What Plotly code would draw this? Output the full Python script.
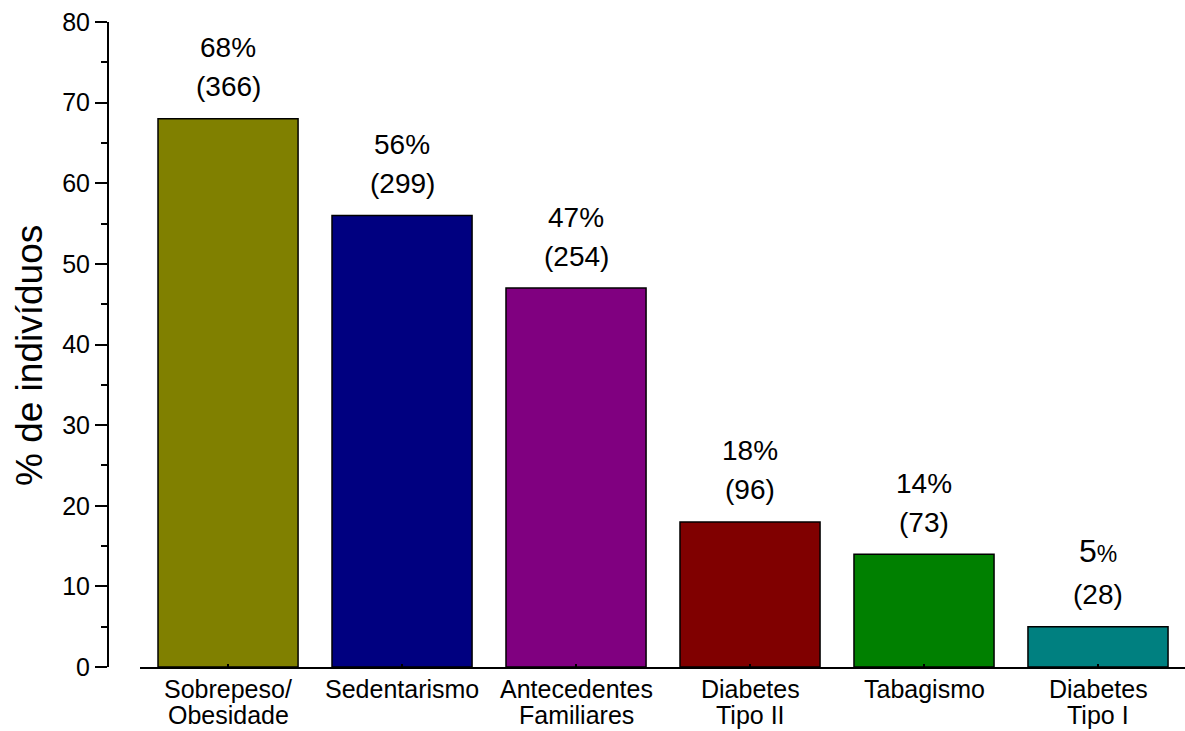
import plotly.graph_objects as go

categories = ["Sobrepeso/\nObesidade", "Sedentarismo", "Antecedentes\nFamiliares",
              "Diabetes\nTipo II", "Tabagismo", "Diabetes\nTipo I"]
percent = [68, 56, 47, 18, 14, 5]
counts = [366, 299, 254, 96, 73, 28]
colors = ["#808000", "#000080", "#800080", "#800000", "#008000", "#008080"]
y_ticks = [0, 10, 20, 30, 40, 50, 60, 70, 80]

FONT = "Liberation Sans, Arial, sans-serif"

fig = go.Figure()
fig.add_trace(go.Bar(
    x=list(range(len(categories))), y=percent,
    marker=dict(color=colors, line=dict(color="black", width=1.5)),
    width=0.805, hoverinfo="skip",
))

annotations = []
for i, (p, c) in enumerate(zip(percent, counts)):
    if p < 10:
        ptxt = f"<span style='font-size:32px'>{p}</span><span style='font-size:23px'>%</span>"
        pshift = 76
    else:
        ptxt = f"{p}%"
        pshift = 71
    annotations.append(dict(x=i, y=p, xref="x", yref="y", text=ptxt, showarrow=False,
                            yanchor="middle", yshift=pshift,
                            font=dict(family=FONT, size=28, color="black")))
    annotations.append(dict(x=i, y=p, xref="x", yref="y", text=f"({c})", showarrow=False,
                            yanchor="middle", yshift=32,
                            font=dict(family=FONT, size=28, color="black")))

# category labels (one annotation per line)
for i, cat in enumerate(categories):
    for j, line in enumerate(cat.split("\n")):
        annotations.append(dict(x=i, y=0, xref="x", yref="paper", text=line, showarrow=False,
                                yanchor="middle", yshift=-(22 + 26 * j), borderpad=0,
                                font=dict(family=FONT, size=25, color="black")))

annotations.append(dict(x=(29 - 108) / 1077, y=(667 - 356) / 645, xref="paper", yref="paper",
                        text="% de indivíduos", textangle=-90, showarrow=False,
                        xanchor="center", yanchor="middle",
                        font=dict(family=FONT, size=37, color="black")))

fig.update_layout(
    width=1185, height=731,
    margin=dict(l=108, r=0, t=22, b=64),
    paper_bgcolor="white", plot_bgcolor="white",
    showlegend=False,
    annotations=annotations,
    font=dict(family=FONT, color="black"),
    xaxis=dict(
        domain=[(140 - 108) / 1077, 1],
        range=[-0.506, 5.5],
        tickmode="array", tickvals=list(range(len(categories))), ticktext=[""] * len(categories),
        showline=True, linecolor="black", linewidth=2,
        ticks="inside", ticklen=3, tickwidth=2, tickcolor="black",
        showgrid=False, zeroline=False,
        fixedrange=True,
    ),
    yaxis=dict(
        range=[0, 80], anchor="free", position=0,
        tickmode="array", tickvals=y_ticks, ticktext=[str(v) for v in y_ticks],
        showline=True, linecolor="black", linewidth=2,
        ticks="outside", ticklen=12, tickwidth=2, tickcolor="black",
        minor=dict(ticks="outside", ticklen=6, tickwidth=2, tickcolor="black", dtick=5, tick0=0),
        showgrid=False, zeroline=False,
        tickfont=dict(family=FONT, size=25, color="black"),
        fixedrange=True,
    ),
)

fig.write_html("out.html", config={"displayModeBar": False})
